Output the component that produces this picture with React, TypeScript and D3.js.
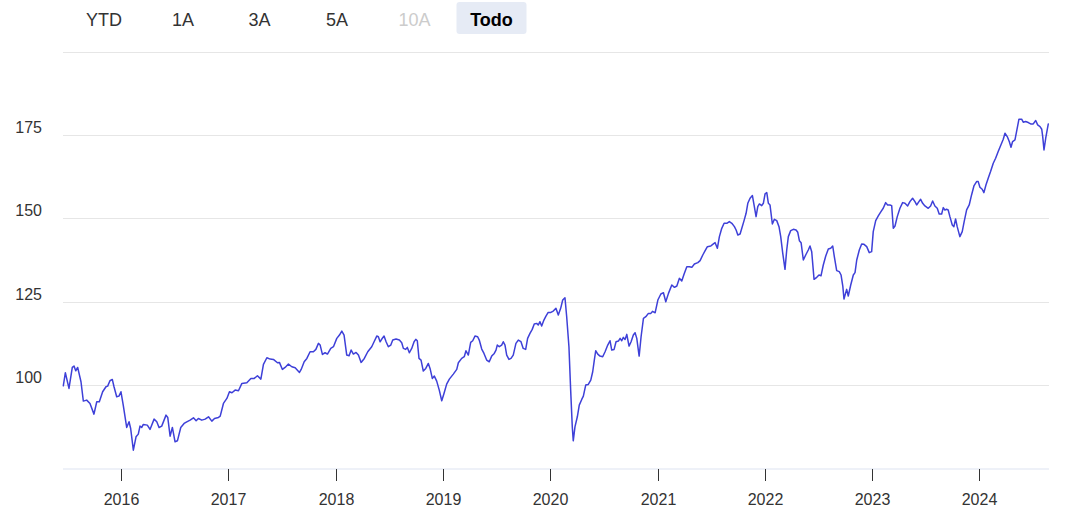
import React from 'react';
import * as d3 from 'd3';

// Decimal-year timestamps of the weekly observations
const dates: number[] = [
  2015.462, 2015.481, 2015.515, 2015.546, 2015.562, 2015.578, 2015.596, 2015.627, 2015.649, 2015.680,
  2015.711, 2015.748, 2015.774, 2015.798, 2015.829, 2015.860, 2015.876, 2015.897, 2015.919, 2015.935,
  2015.960, 2015.981, 2016.000, 2016.021, 2016.053, 2016.075, 2016.090, 2016.115, 2016.140, 2016.161,
  2016.177, 2016.193, 2016.208, 2016.245, 2016.270, 2016.308, 2016.333, 2016.354, 2016.379, 2016.419,
  2016.435, 2016.457, 2016.478, 2016.503, 2016.525, 2016.556, 2016.587, 2016.612, 2016.643, 2016.674,
  2016.699, 2016.720, 2016.752, 2016.783, 2016.814, 2016.845, 2016.870, 2016.907, 2016.923, 2016.953,
  2016.985, 2017.009, 2017.032, 2017.062, 2017.093, 2017.125, 2017.171, 2017.209, 2017.240, 2017.270,
  2017.302, 2017.326, 2017.358, 2017.389, 2017.419, 2017.457, 2017.475, 2017.503, 2017.528, 2017.559,
  2017.591, 2017.622, 2017.662, 2017.678, 2017.706, 2017.731, 2017.761, 2017.792, 2017.815, 2017.839,
  2017.855, 2017.876, 2017.901, 2017.923, 2017.954, 2017.979, 2018.010, 2018.035, 2018.057, 2018.078,
  2018.103, 2018.125, 2018.144, 2018.165, 2018.190, 2018.212, 2018.237, 2018.267, 2018.299, 2018.336,
  2018.358, 2018.383, 2018.398, 2018.414, 2018.430, 2018.451, 2018.470, 2018.491, 2018.514, 2018.532,
  2018.563, 2018.594, 2018.616, 2018.631, 2018.653, 2018.668, 2018.687, 2018.709, 2018.731, 2018.747,
  2018.761, 2018.777, 2018.796, 2018.817, 2018.840, 2018.864, 2018.880, 2018.901, 2018.920, 2018.942,
  2018.966, 2018.989, 2019.010, 2019.035, 2019.060, 2019.097, 2019.129, 2019.144, 2019.175, 2019.199,
  2019.215, 2019.237, 2019.259, 2019.278, 2019.299, 2019.324, 2019.339, 2019.362, 2019.383, 2019.408,
  2019.432, 2019.455, 2019.479, 2019.495, 2019.507, 2019.526, 2019.548, 2019.563, 2019.579, 2019.595,
  2019.616, 2019.635, 2019.656, 2019.681, 2019.703, 2019.728, 2019.749, 2019.772, 2019.790, 2019.812,
  2019.833, 2019.852, 2019.874, 2019.889, 2019.905, 2019.921, 2019.942, 2019.961, 2019.982, 2020.007,
  2020.029, 2020.054, 2020.076, 2020.098, 2020.117, 2020.138, 2020.154, 2020.175, 2020.191, 2020.206,
  2020.215, 2020.231, 2020.253, 2020.271, 2020.294, 2020.309, 2020.331, 2020.355, 2020.378, 2020.396,
  2020.411, 2020.424, 2020.443, 2020.464, 2020.489, 2020.511, 2020.536, 2020.557, 2020.573, 2020.595,
  2020.613, 2020.635, 2020.651, 2020.666, 2020.681, 2020.697, 2020.713, 2020.734, 2020.753, 2020.774,
  2020.790, 2020.806, 2020.828, 2020.846, 2020.868, 2020.890, 2020.914, 2020.937, 2020.952, 2020.977,
  2021.002, 2021.030, 2021.054, 2021.076, 2021.101, 2021.132, 2021.157, 2021.179, 2021.203, 2021.225,
  2021.247, 2021.272, 2021.296, 2021.319, 2021.343, 2021.375, 2021.396, 2021.421, 2021.443, 2021.464,
  2021.496, 2021.514, 2021.536, 2021.557, 2021.576, 2021.598, 2021.620, 2021.645, 2021.669, 2021.692,
  2021.716, 2021.732, 2021.748, 2021.769, 2021.785, 2021.806, 2021.825, 2021.841, 2021.862, 2021.884,
  2021.902, 2021.918, 2021.934, 2021.949, 2021.971, 2021.986, 2022.002, 2022.018, 2022.033, 2022.048,
  2022.070, 2022.089, 2022.111, 2022.132, 2022.148, 2022.167, 2022.188, 2022.204, 2022.219, 2022.241,
  2022.266, 2022.291, 2022.307, 2022.322, 2022.338, 2022.359, 2022.381, 2022.405, 2022.421, 2022.437,
  2022.459, 2022.484, 2022.505, 2022.524, 2022.545, 2022.568, 2022.592, 2022.614, 2022.633, 2022.648,
  2022.670, 2022.694, 2022.711, 2022.727, 2022.738, 2022.763, 2022.778, 2022.801, 2022.825, 2022.841,
  2022.857, 2022.881, 2022.903, 2022.925, 2022.950, 2022.974, 2022.996, 2023.011, 2023.034, 2023.058,
  2023.083, 2023.104, 2023.127, 2023.145, 2023.167, 2023.183, 2023.198, 2023.214, 2023.235, 2023.260,
  2023.285, 2023.307, 2023.332, 2023.353, 2023.378, 2023.400, 2023.416, 2023.437, 2023.453, 2023.472,
  2023.493, 2023.524, 2023.546, 2023.565, 2023.586, 2023.608, 2023.626, 2023.649, 2023.664, 2023.679,
  2023.695, 2023.710, 2023.726, 2023.748, 2023.763, 2023.779, 2023.794, 2023.819, 2023.841, 2023.859,
  2023.882, 2023.906, 2023.928, 2023.950, 2023.975, 2023.990, 2024.006, 2024.027, 2024.043, 2024.062,
  2024.083, 2024.105, 2024.130, 2024.152, 2024.176, 2024.201, 2024.223, 2024.239, 2024.260, 2024.279,
  2024.295, 2024.310, 2024.332, 2024.353, 2024.369, 2024.394, 2024.409, 2024.431, 2024.456, 2024.478,
  2024.502, 2024.525, 2024.543, 2024.565, 2024.581, 2024.590, 2024.602, 2024.618, 2024.633, 2024.642,
];

// Index values
const values: number[] = [
  99.8, 103.7, 99.0, 105.3, 105.7, 104.3, 105.3, 101.0, 95.2, 95.5,
  94.5, 91.3, 95.0, 95.0, 98.0, 99.5, 99.7, 101.3, 101.7, 99.5,
  96.5, 96.7, 98.0, 94.0, 87.3, 89.0, 87.0, 80.5, 84.5, 85.3,
  87.7, 87.3, 88.2, 88.0, 86.7, 89.8, 89.0, 87.3, 87.7, 91.0,
  90.3, 84.7, 87.3, 83.0, 83.3, 87.3, 88.5, 89.0, 89.5, 90.2,
  89.3, 90.0, 89.5, 89.8, 90.5, 89.2, 90.0, 90.3, 90.7, 94.5,
  96.0, 98.0, 97.7, 98.5, 98.3, 100.5, 100.7, 102.0, 102.0, 102.8,
  101.8, 106.2, 108.2, 107.8, 107.7, 106.7, 106.8, 104.7, 105.3, 106.3,
  105.5, 105.2, 103.8, 104.7, 107.0, 108.0, 110.0, 110.0, 110.7, 112.5,
  112.0, 109.2, 109.7, 109.3, 111.0, 111.5, 114.0, 115.0, 116.2, 115.0,
  109.0, 108.8, 110.5, 109.3, 109.8, 109.0, 106.8, 108.0, 110.0, 111.5,
  113.0, 114.7, 114.5, 113.0, 113.8, 114.7, 113.0, 111.5, 112.0, 113.5,
  113.8, 113.5, 112.7, 111.0, 110.7, 111.3, 109.7, 111.0, 113.0, 113.7,
  113.3, 108.0, 107.5, 104.2, 105.0, 106.5, 105.0, 102.0, 102.7, 101.2,
  98.5, 95.3, 97.5, 100.3, 101.8, 103.3, 104.7, 106.7, 108.0, 108.5,
  110.3, 109.0, 112.8, 113.3, 114.7, 114.5, 113.5, 110.8, 109.5, 107.5,
  107.0, 108.7, 109.5, 110.5, 112.0, 111.5, 112.0, 113.0, 112.0, 109.0,
  107.7, 108.0, 109.0, 112.5, 113.5, 113.0, 111.0, 110.7, 114.0, 115.5,
  116.7, 118.3, 118.5, 118.0, 119.0, 117.7, 119.5, 120.7, 121.8, 121.8,
  122.2, 123.0, 121.0, 123.0, 125.5, 126.2, 120.5, 111.5, 98.5, 87.5,
  83.3, 87.5, 90.5, 94.0, 95.7, 96.7, 100.0, 100.2, 101.5, 104.0,
  107.5, 110.3, 109.3, 108.7, 108.5, 110.0, 112.0, 113.3, 110.5, 110.7,
  113.0, 113.2, 114.0, 113.3, 114.3, 113.7, 115.2, 111.7, 113.0, 115.0,
  115.7, 114.0, 108.7, 114.5, 120.0, 120.5, 121.5, 121.5, 122.1, 121.7,
  125.5, 127.3, 127.7, 125.0, 127.5, 130.0, 129.3, 129.7, 132.0, 131.2,
  133.3, 135.5, 135.5, 135.3, 136.3, 136.7, 137.3, 139.0, 140.3, 141.5,
  141.7, 142.2, 142.7, 141.0, 144.5, 147.0, 148.5, 148.5, 149.0, 148.5,
  147.5, 146.5, 145.0, 145.3, 147.0, 149.3, 151.5, 154.5, 156.0, 156.8,
  153.5, 150.5, 153.5, 154.3, 153.8, 154.5, 157.3, 157.7, 154.5, 154.0,
  148.3, 149.7, 149.3, 147.5, 144.5, 139.5, 134.7, 140.5, 144.5, 146.3,
  146.7, 146.5, 145.8, 143.3, 142.7, 137.5, 139.0, 140.5, 141.7, 140.0,
  131.7, 132.3, 133.0, 132.8, 136.0, 138.7, 140.8, 141.0, 141.7, 138.5,
  134.3, 134.0, 133.0, 129.7, 125.8, 128.7, 126.7, 130.0, 133.0, 133.7,
  137.5, 140.5, 142.3, 142.2, 141.5, 139.7, 140.0, 146.0, 149.3, 150.7,
  152.0, 153.0, 154.7, 154.0, 154.0, 153.8, 147.0, 147.7, 150.5, 153.0,
  154.7, 154.5, 153.7, 155.0, 156.0, 155.0, 154.0, 155.0, 155.7, 154.5,
  153.7, 153.0, 153.7, 155.2, 153.7, 153.0, 151.3, 151.3, 153.2, 152.5,
  152.7, 152.5, 150.5, 148.0, 147.5, 149.8, 147.5, 144.5, 146.0, 149.0,
  152.5, 154.0, 157.0, 159.7, 161.0, 161.0, 159.3, 158.7, 157.7, 160.0,
  162.0, 164.0, 166.5, 168.0, 170.0, 172.0, 173.7, 175.5, 174.5, 173.0,
  171.3, 173.0, 173.5, 177.0, 179.7, 179.7, 178.8, 179.0, 178.7, 178.3,
  178.3, 179.3, 178.0, 177.5, 176.7, 174.5, 170.5, 174.0, 176.7, 178.3,
];

const yGridTicks: number[] = [100, 125, 150, 175, 200];
const yLabelTicks: number[] = [100, 125, 150, 175];
const xTickYears: number[] = [2016, 2017, 2018, 2019, 2020, 2021, 2022, 2023, 2024];
const rangeButtons: string[] = ['YTD', '1A', '3A', '5A', '10A', 'Todo'];
const disabledButton = '10A';
const selectedButton = 'Todo';

const FONT = '"Liberation Sans", Arial, Helvetica, sans-serif';

function decYearToDate(t: number): Date {
  const y = Math.floor(t);
  const start = Date.UTC(y, 0, 1);
  const end = Date.UTC(y + 1, 0, 1);
  return new Date(start + (t - y) * (end - start));
}

export default function App() {
  const W = 1082;
  const H = 515;
  const plotLeft = 63;
  const plotRight = 1049;
  const plotTop = 51.5;
  const plotBottom = 468.5;

  const x = d3
    .scaleUtc()
    .domain([decYearToDate(dates[0]), decYearToDate(dates[dates.length - 1])])
    .range([63.3, 1048.3]);
  const y = d3.scaleLinear().domain([75, 200]).range([plotBottom, plotTop]);

  const line = d3
    .line<number>()
    .x((_, i) => x(decYearToDate(dates[i])))
    .y((d) => y(d));

  const buttonCenters = [104, 183, 259.5, 337, 414.5, 491.5];

  return (
    <svg
      width={W}
      height={H}
      style={{ position: 'absolute', left: 0, top: 0, background: '#fff' }}
      fontFamily={FONT}
    >
      {/* range selector buttons */}
      {rangeButtons.map((b, i) => {
        const cx = buttonCenters[i];
        const sel = b === selectedButton;
        const dis = b === disabledButton;
        return (
          <g key={b}>
            {sel && <rect x={cx - 35} y={2} width={70} height={32} rx={3} fill="#e6ebf5" />}
            <text
              x={cx}
              y={25.5}
              textAnchor="middle"
              fontSize={18}
              fontWeight={sel ? 'bold' : 'normal'}
              fill={sel ? '#000' : dis ? '#cccccc' : '#333333'}
            >
              {b}
            </text>
          </g>
        );
      })}

      {/* grid */}
      {yGridTicks.map((t) => (
        <line
          key={t}
          x1={plotLeft}
          x2={plotRight}
          y1={Math.round(y(t)) + 0.5}
          y2={Math.round(y(t)) + 0.5}
          stroke="#e6e6e6"
          strokeWidth={1}
        />
      ))}
      {yLabelTicks.map((t) => (
        <text key={t} x={42} y={y(t) - 2} textAnchor="end" fontSize={16} fill="#333333">
          {t}
        </text>
      ))}

      {/* x axis */}
      <line x1={plotLeft} x2={plotRight} y1={469} y2={469} stroke="#eef1f8" strokeWidth={2} />
      {xTickYears.map((yr) => {
        const xx = Math.round(x(new Date(Date.UTC(yr, 0, 1)))) + 0.5;
        return (
          <g key={yr}>
            <line x1={xx} x2={xx} y1={469} y2={481} stroke="#333333" strokeWidth={1} />
            <text x={xx} y={505} textAnchor="middle" fontSize={16} fill="#333333">
              {yr}
            </text>
          </g>
        );
      })}

      {/* series */}
      <path
        d={line(values) || ''}
        fill="none"
        stroke="#3e40d8"
        strokeWidth={1.5}
        strokeLinejoin="round"
        strokeLinecap="round"
      />
    </svg>
  );
}
